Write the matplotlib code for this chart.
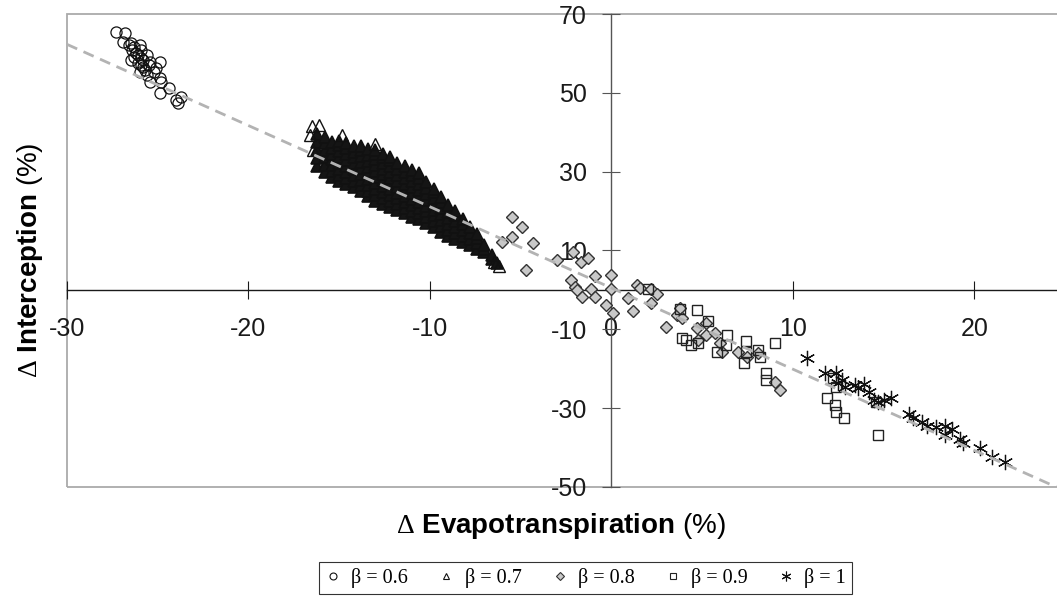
import matplotlib
matplotlib.use("Agg")
import matplotlib.pyplot as plt
from matplotlib.lines import Line2D
from matplotlib.patches import Rectangle

plt.rcParams["font.family"] = ["Liberation Sans", "DejaVu Sans"]
plt.rcParams["mathtext.fontset"] = "custom"
plt.rcParams["mathtext.rm"] = "Liberation Serif"
plt.rcParams["mathtext.bf"] = "Liberation Sans:bold"
plt.rcParams["axes.unicode_minus"] = False

# beta = 0.6 (open circles, top left)
circ_x = [-27.3, -26.8, -26.9, -26.5, -26.3, -26.0, -25.9, -26.2, -25.9, -25.6,
          -25.4, -24.9, -25.8, -25.1, -26.0, -25.6, -24.9, -25.4, -24.8, -24.9,
          -24.4, -24.0, -23.7, -23.9, -26.5, -26.1, -26.6, -26.4, -26.1, -25.8,
          -25.5, -25.2, -25.9, -26.3, -25.7]
circ_y = [65.4, 65.2, 62.9, 62.7, 61.6, 62.2, 60.9, 60.1, 58.9, 59.6,
          57.8, 57.8, 56.6, 56.3, 55.3, 54.5, 53.8, 52.8, 52.8, 50.0,
          51.2, 48.2, 49.0, 47.4, 58.4, 57.6, 62.2, 60.9, 59.6, 58.4,
          57.1, 55.3, 57.1, 59.1, 55.8]

# beta = 0.7: the dense cloud, read column by column (it prints as solid black)
tri_x = [
    -16.2, -16.2, -16.2, -16.2, -16.2,
    -15.8, -15.8, -15.8, -15.8, -15.8, -15.8,
    -15.4, -15.4, -15.4, -15.4, -15.4, -15.4, -15.4,
    -15.0, -15.0, -15.0, -15.0, -15.0, -15.0, -15.0, -15.0,
    -14.6, -14.6, -14.6, -14.6, -14.6, -14.6, -14.6, -14.6,
    -14.2, -14.2, -14.2, -14.2, -14.2, -14.2, -14.2, -14.2,
    -13.8, -13.8, -13.8, -13.8, -13.8, -13.8, -13.8, -13.8, -13.8,
    -13.4, -13.4, -13.4, -13.4, -13.4, -13.4, -13.4, -13.4, -13.4,
    -13.0, -13.0, -13.0, -13.0, -13.0, -13.0, -13.0, -13.0, -13.0, -13.0,
    -12.6, -12.6, -12.6, -12.6, -12.6, -12.6, -12.6, -12.6, -12.6, -12.6,
    -12.2, -12.2, -12.2, -12.2, -12.2, -12.2, -12.2, -12.2, -12.2, -12.2,
    -11.8, -11.8, -11.8, -11.8, -11.8, -11.8, -11.8, -11.8, -11.8,
    -11.4, -11.4, -11.4, -11.4, -11.4, -11.4, -11.4, -11.4, -11.4,
    -11.0, -11.0, -11.0, -11.0, -11.0, -11.0, -11.0, -11.0, -11.0,
    -10.6, -10.6, -10.6, -10.6, -10.6, -10.6, -10.6, -10.6, -10.6,
    -10.2, -10.2, -10.2, -10.2, -10.2, -10.2, -10.2, -10.2,
    -9.8, -9.8, -9.8, -9.8, -9.8, -9.8, -9.8, -9.8,
    -9.4, -9.4, -9.4, -9.4, -9.4, -9.4, -9.4,
    -9.0, -9.0, -9.0, -9.0, -9.0, -9.0,
    -8.6, -8.6, -8.6, -8.6, -8.6, -8.6,
    -8.2, -8.2, -8.2, -8.2, -8.2,
    -7.8, -7.8, -7.8, -7.8,
    -7.4, -7.4, -7.4, -7.4,
    -7.0, -7.0, -7.0,
    -6.6, -6.6,
    -6.3,
]
tri_y = [
    31.5, 33.5, 35.5, 37.5, 39.5,
    30.0, 31.8, 33.6, 35.4, 37.2, 38.7,
    28.6, 30.1, 31.6, 33.1, 34.6, 36.1, 37.6,
    27.7, 29.2, 30.7, 32.2, 33.7, 35.2, 36.7, 37.8,
    26.9, 28.4, 29.9, 31.4, 32.9, 34.4, 35.9, 37.2,
    26.1, 27.6, 29.1, 30.6, 32.1, 33.6, 35.1, 36.6,
    25.0, 26.5, 28.0, 29.5, 31.0, 32.5, 34.0, 35.5, 36.5,
    23.7, 25.2, 26.7, 28.2, 29.7, 31.2, 32.7, 34.2, 35.7,
    22.6, 24.1, 25.6, 27.1, 28.6, 30.1, 31.6, 33.1, 34.6, 35.5,
    21.8, 23.3, 24.8, 26.3, 27.8, 29.3, 30.8, 32.3, 33.8, 34.6,
    21.0, 22.5, 24.0, 25.5, 27.0, 28.5, 30.0, 31.5, 33.0, 33.6,
    20.2, 21.7, 23.2, 24.7, 26.2, 27.7, 29.2, 30.7, 32.2,
    19.4, 20.9, 22.4, 23.9, 25.4, 26.9, 28.4, 29.9, 31.4,
    18.6, 20.1, 21.6, 23.1, 24.6, 26.1, 27.6, 29.1, 30.5,
    17.9, 19.4, 20.9, 22.4, 23.9, 25.4, 26.9, 28.4, 29.6,
    16.9, 18.4, 19.9, 21.4, 22.9, 24.4, 25.9, 27.4,
    15.9, 17.4, 18.9, 20.4, 21.9, 23.4, 24.9, 25.5,
    14.8, 16.3, 17.8, 19.3, 20.8, 22.3, 23.6,
    13.8, 15.3, 16.8, 18.3, 19.8, 21.5,
    13.0, 14.5, 16.0, 17.5, 19.0, 19.9,
    12.2, 13.7, 15.2, 16.7, 18.0,
    11.4, 12.9, 14.4, 16.0,
    10.5, 11.8, 13.1, 14.2,
    9.5, 10.5, 11.4,
    7.8, 8.8,
    6.8,
]
# beta = 0.7: the few triangles that stand apart at the cloud's edge
tri_edge_x = [-16.5, -16.1, -16.6, -16.45, -14.85, -13.0, -6.2, -6.45]
tri_edge_y = [41.5, 41.9, 39.3, 35.5, 39.3, 37.0, 6.0, 7.2]

# beta = 0.8 (grey diamonds)
diam_x = [-5.5, -4.9, -5.5, -6.0, -4.3, -4.7, -3.0, -2.1, -1.7, -1.3,
          -0.9, 0.0, -2.2, -2.0, -1.9, -1.6, -1.1, -0.9, 0.0, -0.3,
          0.1, 0.9, 1.2, 1.4, 1.6, 2.2, 2.5, 2.2, 3.0, 3.6,
          3.8, 3.9, 4.7, 5.2, 5.2, 5.7, 6.0, 6.1, 7.0, 7.5,
          8.1, 9.0, 9.3, 4.8]
diam_y = [18.5, 16.0, 13.4, 12.2, 11.9, 5.1, 7.6, 9.6, 7.1, 8.1,
          3.6, 3.8, 2.5, 0.8, 0.0, -1.8, 0.3, -1.8, 0.3, -3.8,
          -5.8, -2.0, -5.3, 1.3, 0.5, 0.3, -1.0, -3.3, -9.4, -6.3,
          -4.6, -7.1, -9.6, -11.4, -8.4, -10.9, -13.4, -15.7, -15.7, -17.0,
          -16.0, -23.3, -25.4, -12.7]

# beta = 0.9 (open squares)
sq_x = [3.8, 4.7, 5.3, 4.1, 4.4, 4.8, 5.8, 6.4, 6.3, 7.4,
        7.4, 7.3, 8.1, 8.2, 9.0, 8.5, 8.5, 11.9, 12.3, 12.4,
        12.8, 12.2, 12.4, 14.6, 14.7, 2.0, 3.9]
sq_y = [-4.8, -5.1, -7.9, -12.7, -14.0, -13.4, -15.7, -11.4, -14.0, -12.9,
        -15.7, -18.5, -15.2, -17.0, -13.4, -21.1, -22.8, -27.4, -29.2, -30.9,
        -32.5, -22.3, -24.6, -28.4, -36.8, 0.3, -12.2]

# beta = 1 (asterisks)
star_x = [10.8, 11.8, 12.4, 12.7, 12.9, 13.4, 13.6, 13.9, 14.2, 14.5,
          14.7, 15.0, 15.4, 16.4, 16.6, 17.1, 17.4, 17.9, 18.4, 18.8,
          18.4, 19.2, 19.4, 20.3, 21.0, 21.7, 12.5]
star_y = [-17.3, -21.1, -21.1, -22.8, -24.6, -24.1, -24.9, -23.8, -25.9, -27.9,
          -28.4, -27.9, -27.4, -31.5, -32.5, -33.5, -34.5, -34.8, -34.5, -35.3,
          -36.8, -37.8, -38.8, -40.1, -42.4, -43.6, -23.6]

# linear trend line
trend_slope = -2.06
trend_intercept = 0.5

x_ticks = [-30, -20, -10, 0, 10, 20]
y_ticks = [-50, -30, -10, 10, 30, 50, 70]
legend_labels = ["β = 0.6", "β = 0.7", "β = 0.8", "β = 0.9", "β = 1"]


def main():
    fig = plt.figure(figsize=(10.57, 6.07), dpi=100)
    ax = fig.add_axes([67 / 1057, 120 / 607, 998 / 1057, 473 / 607])
    ax.set_xlim(-30, 25)
    ax.set_ylim(-50, 70)

    # axes cross at the origin, grey frame round the plot area
    ax.spines["top"].set_visible(False)
    ax.spines["right"].set_visible(False)
    ax.spines["left"].set_position(("data", 0))
    ax.spines["bottom"].set_position(("data", 0))
    ax.spines["bottom"].set_color("#1a1a1a")
    ax.spines["left"].set_color("#555555")
    ax.spines["bottom"].set_linewidth(1.0)
    ax.spines["left"].set_linewidth(1.0)
    ax.add_patch(Rectangle((0, 0), 1, 1, transform=ax.transAxes, fill=False,
                           edgecolor="#aaaaaa", lw=1.3, clip_on=False, zorder=0))

    ax.set_xticks(x_ticks)
    ax.set_yticks(y_ticks)
    ax.tick_params(direction="inout", length=13, width=0.8, labelsize=18,
                   labelcolor="#1a1a1a")
    ax.tick_params(axis="x", pad=13, color="#1a1a1a")
    ax.tick_params(axis="y", pad=11, color="#555555")

    ax.plot(tri_x, tri_y, ls="none", marker="^", ms=9, mfc="#151515",
            mec="#111111", mew=1.2, zorder=3)
    ax.plot(tri_edge_x, tri_edge_y, ls="none", marker="^", ms=9, mfc="none",
            mec="#111111", mew=1.0, zorder=3)
    ax.plot(circ_x, circ_y, ls="none", marker="o", ms=8, mfc="none",
            mec="#111111", mew=0.9, zorder=3)
    ax.plot(diam_x, diam_y, ls="none", marker="D", ms=6, mfc="#c8c8c8",
            mec="#333333", mew=1.0, zorder=3)
    ax.plot(sq_x, sq_y, ls="none", marker="s", ms=7.5, mfc="none",
            mec="#222222", mew=1.0, zorder=3)
    ax.plot(star_x, star_y, ls="none", marker=(6, 2, 0), ms=11,
            mec="#111111", mew=0.9, zorder=3)

    line_x = [-30, 25]
    line_y = [trend_intercept + trend_slope * v for v in line_x]
    ax.plot(line_x, line_y, color="#b3b3b3", lw=2.0, dashes=(4, 2.5), zorder=5)

    fig.text(30 / 1057, 1 - 260 / 607, r"$\Delta$ $\mathbf{Interception}$ (%)",
             rotation=90, ha="center", va="center", fontsize=20)
    fig.text(561 / 1057, 1 - 526 / 607, r"$\Delta$ $\mathbf{Evapotranspiration}$ (%)",
             ha="center", va="center", fontsize=20)

    handles = [
        Line2D([], [], ls="none", marker="o", ms=5, mfc="none", mec="#111111", mew=0.8),
        Line2D([], [], ls="none", marker="^", ms=5, mfc="none", mec="#111111", mew=0.8),
        Line2D([], [], ls="none", marker="D", ms=4, mfc="#c8c8c8", mec="#333333", mew=0.8),
        Line2D([], [], ls="none", marker="s", ms=5, mfc="none", mec="#222222", mew=0.8),
        Line2D([], [], ls="none", marker=(6, 2, 0), ms=7, mec="#111111", mew=0.8),
    ]
    leg = fig.legend(handles, legend_labels, loc="center",
                     bbox_to_anchor=(585.5 / 1057, 1 - 578 / 607), ncol=5,
                     frameon=True, fancybox=False, edgecolor="black",
                     prop={"family": "Liberation Serif", "size": 14.5},
                     handlelength=0.8, handletextpad=0.5, columnspacing=1.5,
                     borderpad=0.3, borderaxespad=0)
    leg.get_frame().set_linewidth(0.8)

    fig.savefig("out.png", dpi=100)


if __name__ == "__main__":
    main()
